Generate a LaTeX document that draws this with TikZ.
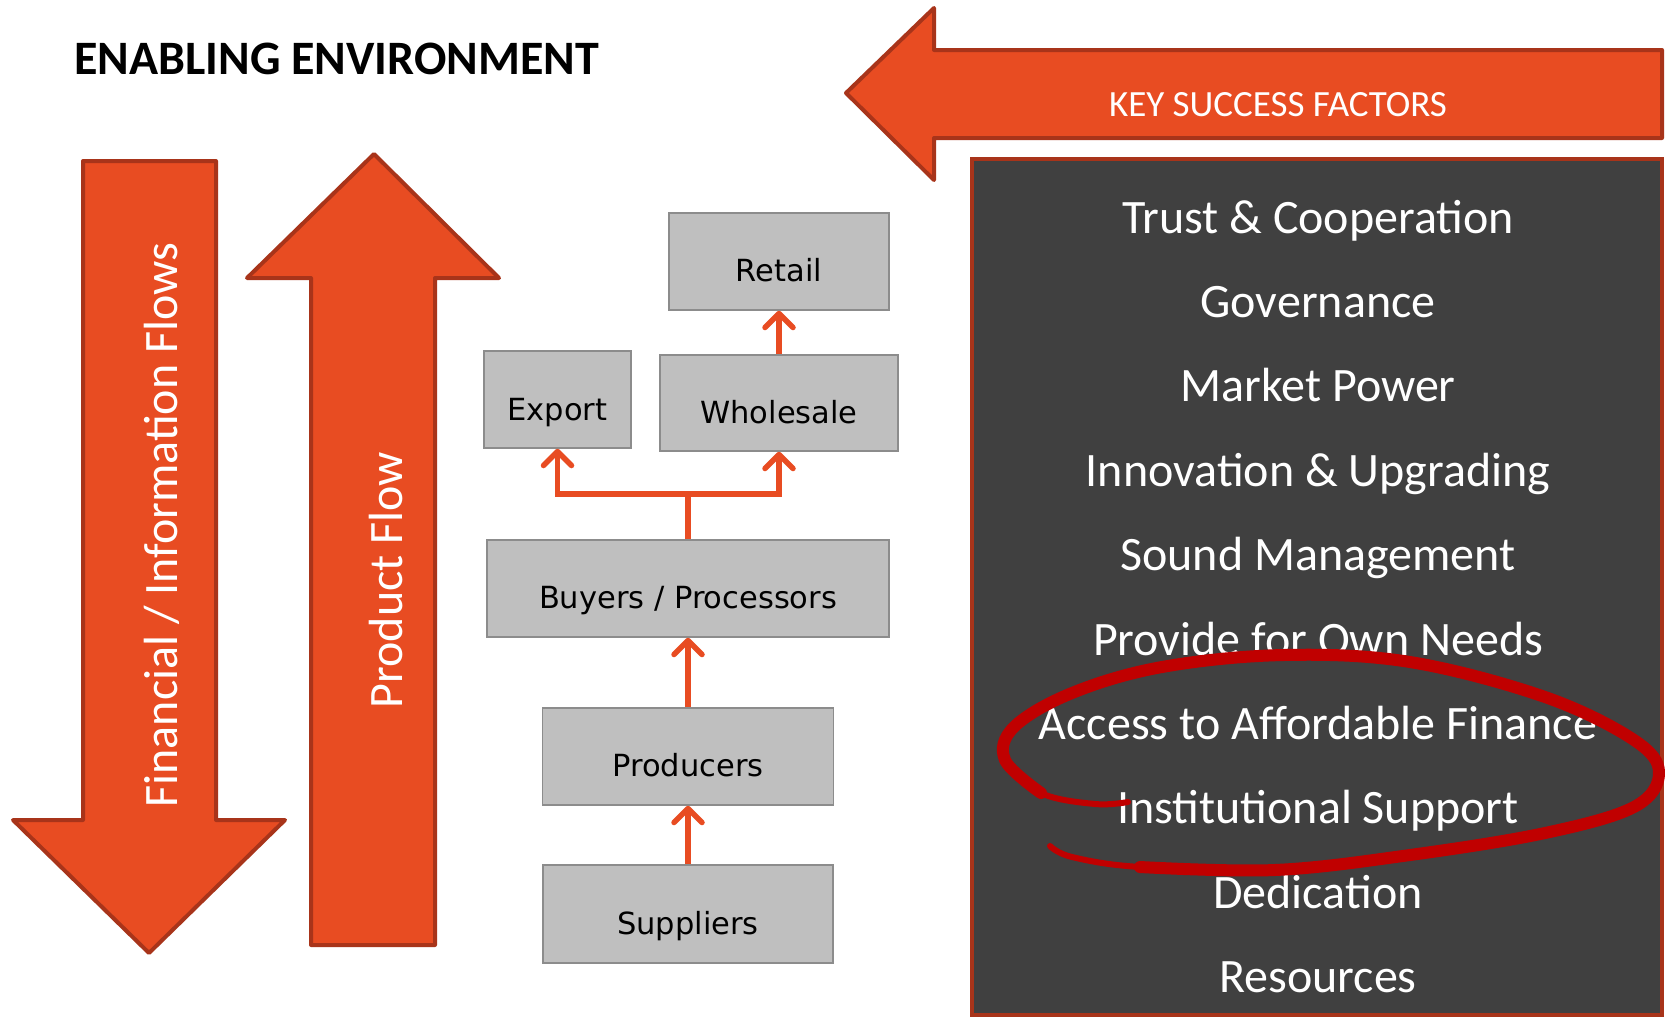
\documentclass[tikz,border=0pt]{standalone}
\usepackage{fontspec}
\setmainfont{Carlito}
\newfontfamily\boxfont{DejaVu Sans}
\usetikzlibrary{arrows.meta}
\definecolor{orfill}{HTML}{E84C22}
\definecolor{orline}{HTML}{A8341A}
\definecolor{boxgray}{HTML}{BFBFBF}
\definecolor{boxline}{HTML}{8C8C8C}
\definecolor{darkpanel}{HTML}{404040}
\definecolor{circred}{HTML}{C00000}
\begin{document}
\begin{tikzpicture}[x=1pt,y=-1pt,
  bigarrow/.style={fill=orfill, draw=orline, line width=4pt, line join=round},
  gbox/.style={draw=boxline, fill=boxgray, line width=1.5pt, inner sep=0pt},
  gtext/.style={font=\boxfont\fontsize{30.5}{36}\selectfont, text=black, anchor=base, inner sep=0pt},
  flowline/.style={draw=orfill, line width=5.5pt},
  flow/.style={flowline, -{Straight Barb[length=14pt,width=28pt,line width=5.5pt,round]}},
  wtext/.style={font=\fontsize{48}{57}\selectfont, text=white, anchor=base, inner sep=0pt},
  factor/.style={font=\fontsize{48}{57}\selectfont, text=white, anchor=base, inner sep=0pt},
  ring/.style={draw=circred, line cap=round, line join=round}
]
\useasboundingbox (0,0) rectangle (1665,1020);
\fill[white] (0,0) rectangle (1665,1020);

% title
\node[anchor=base west, font=\bfseries\fontsize{48}{57}\selectfont, inner sep=0pt] (title) at (74,74) {ENABLING ENVIRONMENT};

% key success factors arrow
\draw[bigarrow] (1662,50) -- (934,50) -- (934,8) -- (846,93) -- (934,180) -- (934,138) -- (1662,138) -- cycle;
\node[font=\fontsize{37}{44}\selectfont, text=white, anchor=base, inner sep=0pt] (ksf) at (1278,116) {KEY SUCCESS FACTORS};

% dark panel
\draw[fill=darkpanel, draw=orline, line width=4pt] (972,159) rectangle (1662,1015);
\foreach \t [count=\i from 0] in {Trust \& Cooperation, Governance, Market Power, Innovation \& Upgrading, Sound Management, Provide for Own Needs, Access to Affordable Finance, Institutional Support, Dedication, Resources}
  \node[factor] (f\i) at (1318,{233+84.4*\i}) {\t};

% red ring
\draw[ring, line width=6pt] plot[smooth, tension=0.6] coordinates {(1128,802) (1095,804) (1041,793) (1005,760) (1014,727) (1072,693) (1162,667) (1284,655) (1410,662) (1545,697) (1634,740) (1659,773) (1634,807) (1545,833) (1410,855) (1275,870) (1140,867) (1072,857) (1050,846)};
\draw[ring, line width=12pt] plot[smooth, tension=0.6] coordinates {(1041,793) (1005,760) (1014,727) (1072,693) (1162,667) (1284,655) (1410,662) (1545,697) (1634,740) (1659,773) (1634,807) (1545,833) (1410,855) (1275,870) (1140,867)};

% vertical big arrows
\draw[bigarrow] (83,161) -- (216,161) -- (216,820) -- (285,820) -- (149,953) -- (13,820) -- (83,820) -- cycle;
\node[wtext, rotate=90] (fin) at (177,525) {Financial / Information Flows};
\draw[bigarrow] (311,945) -- (311,278) -- (247,278) -- (374,154) -- (499,278) -- (435,278) -- (435,945) -- cycle;
\node[wtext, rotate=90] (prod) at (402,580) {Product Flow};

% value chain boxes
\node[gbox, minimum width=220pt, minimum height=97pt] (retail) at (779,261.5) {};
\node[gbox, minimum width=147pt, minimum height=97pt] (export) at (557.5,399.5) {};
\node[gbox, minimum width=238pt, minimum height=96pt] (wholesale) at (779,403) {};
\node[gbox, minimum width=402pt, minimum height=97pt] (buyers) at (688,588.5) {};
\node[gbox, minimum width=291pt, minimum height=97pt] (producers) at (688,756.5) {};
\node[gbox, minimum width=290pt, minimum height=98pt] (suppliers) at (688,914) {};
\node[gtext] (tretail) at ([yshift=-20pt]retail.center) {Retail};
\node[gtext] (texport) at ([yshift=-21pt]export.center) {Export};
\node[gtext] (twholesale) at ([yshift=-20pt]wholesale.center) {Wholesale};
\node[gtext] (tbuyers) at ([yshift=-20pt]buyers.center) {Buyers / Processors};
\node[gtext] (tproducers) at ([yshift=-20pt]producers.center) {Producers};
\node[gtext] (tsuppliers) at ([yshift=-20pt]suppliers.center) {Suppliers};

% connectors
\coordinate (split) at (688,494);
\draw[flow] (wholesale.north) -- (retail.south);
\draw[flow] (suppliers.north) -- (producers.south);
\draw[flow] (producers.north) -- (buyers.south);
\draw[flowline] (buyers.north) -- (split);
\draw[flow] (split) -| (export.south);
\draw[flow] (split) -| (wholesale.south);
\end{tikzpicture}
\end{document}
